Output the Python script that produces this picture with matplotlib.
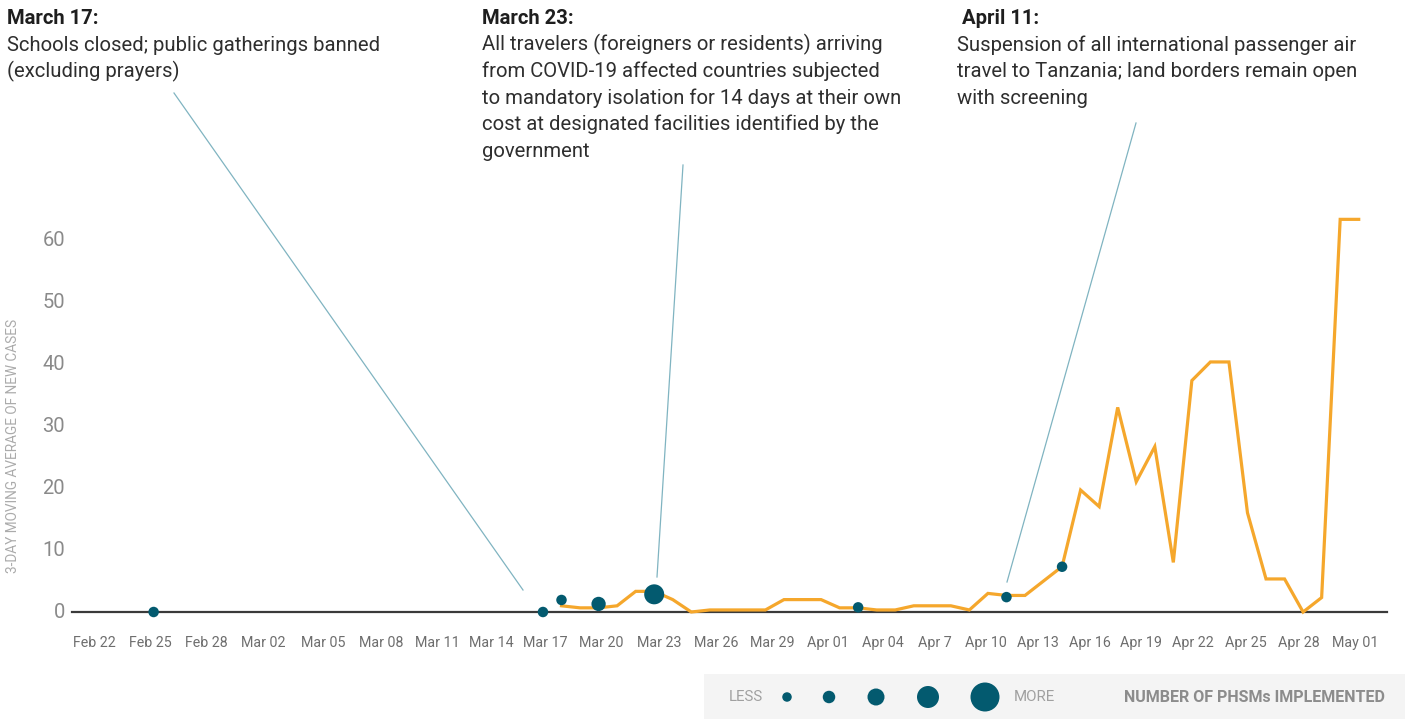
import matplotlib
matplotlib.use("Agg")
import matplotlib.pyplot as plt
import pandas as pd
import numpy as np

# ---------------- data ----------------
start_date = "2020-02-22"
line_start = "2020-03-18"
line_values = [1.0, 0.67, 0.67, 1.0, 3.33, 3.33, 2.0, 0.0, 0.33, 0.33, 0.33, 0.33, 2.0, 2.0,
               2.0, 0.67, 0.67, 0.33, 0.33, 1.0, 1.0, 1.0, 0.33, 3.0, 2.67, 2.67, 5.0, 7.33,
               19.67, 17.0, 33.0, 21.0, 26.67, 8.0, 37.33, 40.33, 40.33, 16.0, 5.33, 5.33,
               0.0, 2.33, 63.33, 63.33]
dot_dates = ["2020-02-25", "2020-03-17", "2020-03-18", "2020-03-20", "2020-03-23",
             "2020-04-03", "2020-04-11", "2020-04-14"]
dot_values = [0.0, 0.0, 1.94, 1.3, 2.85, 0.75, 2.4, 7.3]
dot_counts = [1, 1, 1, 2, 3, 1, 1, 1]

tick_labels = ["Feb 22", "Feb 25", "Feb 28", "Mar 02", "Mar 05", "Mar 08", "Mar 11", "Mar 14",
               "Mar 17", "Mar 20", "Mar 23", "Mar 26", "Mar 29", "Apr 01", "Apr 04", "Apr 7",
               "Apr 10", "Apr 13", "Apr 16", "Apr 19", "Apr 22", "Apr 25", "Apr 28", "May 01"]
y_ticks = [0, 10, 20, 30, 40, 50, 60]

annotations = [
    ("March 17:", ["Schools closed; public gatherings banned", "(excluding prayers)"]),
    ("March 23:", ["All travelers (foreigners or residents) arriving",
                   "from COVID-19 affected countries subjected",
                   "to mandatory isolation for 14 days at their own",
                   "cost at designated facilities identified by the",
                   "government"]),
    (" April 11:", ["Suspension of all international passenger air",
                    "travel to Tanzania; land borders remain open",
                    "with screening"]),
]
legend_levels = [1, 2, 3, 4, 5]

# ---------------- layout / style ----------------
W, H = 1418, 719
ORANGE = "#f5a72c"
TEAL = "#035a6f"
LEADER = "#80b4c1"
FONT = "Roboto"

# tick label placement (day offsets from start, as placed in the original)
tick_pos = [-0.17, 2.84, 5.86, 8.94, 12.13, 15.26, 18.32, 21.24, 24.11, 27.13, 30.26, 33.32,
            36.38, 39.36, 42.34, 45.15, 47.87, 50.69, 53.48, 56.25, 59.05, 61.92, 64.78, 67.8]
dot_diam_px = {1: 10.5, 2: 14.3, 3: 20.0}
legend_diam_px = [9.5, 12.5, 17.0, 22.0, 29.0]
legend_x_px = [787, 829, 876, 928, 985]

ann_x_px = [7, 482, 957]
leaders_px = [((174, 93), (523, 590)), ((683, 165), (657, 577)), ((1136, 123), (1007, 582))]


def fx(px):
    return px / W


def fy(py):
    return 1 - py / H


plt.rcParams["font.family"] = [FONT, "DejaVu Sans"]

fig = plt.figure(figsize=(W / 100, H / 100), dpi=100)
fig.patch.set_facecolor("white")

ax_left, ax_right, ax_bottom, ax_top = 72, 1387, 612, 178
ax = fig.add_axes([fx(ax_left), fy(ax_bottom), (ax_right - ax_left) / W, (ax_bottom - ax_top) / H])
ax.set_facecolor("none")

t0 = pd.Timestamp(start_date)
line_days = (pd.date_range(line_start, periods=len(line_values)) - t0).days.values
dot_days = (pd.to_datetime(dot_dates) - t0).days.values

px_per_day = 18.54
day0_px = 98.0
ax.set_xlim((ax_left - day0_px) / px_per_day, (ax_right - day0_px) / px_per_day)
ax.set_ylim(0, 70)

ax.axhline(0, color="#3a3a3a", lw=1.6, zorder=1, clip_on=False)
ax.plot(line_days, line_values, color=ORANGE, lw=2.3, zorder=2, clip_on=False,
        solid_joinstyle="miter")
sizes = [(dot_diam_px[c] * 0.72) ** 2 for c in dot_counts]
ax.scatter(dot_days, dot_values, s=sizes, color=TEAL, zorder=3, clip_on=False, linewidths=0)

for s in ax.spines.values():
    s.set_visible(False)
ax.set_xticks(tick_pos)
ax.set_xticklabels(tick_labels, fontsize=10.3, color="#6e6e6e")
ax.set_yticks(y_ticks)
ax.set_yticklabels([str(v) for v in y_ticks], fontsize=14.5, color="#8a8a8a")
ax.tick_params(axis="both", length=0)
ax.tick_params(axis="x", pad=17)
ax.tick_params(axis="y", pad=5)
for lbl in ax.get_yticklabels():
    lbl.set_verticalalignment("center")

fig.text(fx(13), fy(446), "3-DAY MOVING AVERAGE OF NEW CASES", rotation=90, ha="center",
         va="center", fontsize=9.8, color="#ababab")

# annotations
for (head, body), x in zip(annotations, ann_x_px):
    fig.text(fx(x), fy(24), head, fontsize=14.6, fontweight="bold", color="#1e1e1e",
             ha="left", va="baseline")
    for i, line in enumerate(body):
        fig.text(fx(x), fy(50.6 + 26.6 * i), line, fontsize=14.6, color="#2e2e2e",
                 ha="left", va="baseline")

for (p0, p1) in leaders_px:
    fig.add_artist(plt.Line2D([fx(p0[0]), fx(p1[0])], [fy(p0[1]), fy(p1[1])],
                              transform=fig.transFigure, color=LEADER, lw=0.9))

# legend box
lx0, lx1, ly0, ly1 = 704, 1405, 674, 719
lax = fig.add_axes([fx(lx0), fy(ly1), (lx1 - lx0) / W, (ly1 - ly0) / H])
lax.set_facecolor("#f4f4f4")
lax.set_xlim(lx0, lx1)
lax.set_ylim(ly1, ly0)
for s in lax.spines.values():
    s.set_visible(False)
lax.set_xticks([])
lax.set_yticks([])
lax.scatter(legend_x_px, [697] * len(legend_levels),
            s=[(d * 0.72) ** 2 for d in legend_diam_px], color=TEAL, linewidths=0)
lax.text(746, 697, "LESS", ha="center", va="center", fontsize=10.8, color="#a0a0a0")
lax.text(1014, 697, "MORE", ha="left", va="center", fontsize=10.8, color="#a0a0a0")
lax.text(1385, 697, "NUMBER OF PHSMs IMPLEMENTED", ha="right", va="center", fontsize=11.5,
         fontweight="bold", color="#8c8c8c")

fig.savefig("out.png", dpi=100)
